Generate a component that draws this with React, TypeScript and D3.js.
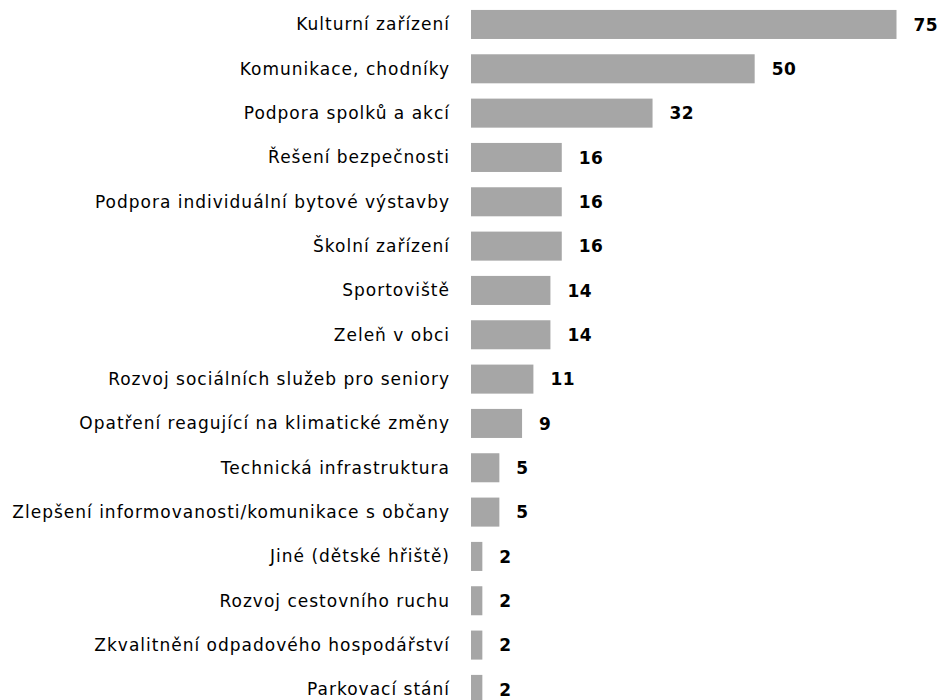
import * as React from 'react';
import * as d3 from 'd3';

const categories = [
  'Kulturní zařízení',
  'Komunikace, chodníky',
  'Podpora spolků a akcí',
  'Řešení bezpečnosti',
  'Podpora individuální bytové výstavby',
  'Školní zařízení',
  'Sportoviště',
  'Zeleň v obci',
  'Rozvoj sociálních služeb pro seniory',
  'Opatření reagující na klimatické změny',
  'Technická infrastruktura',
  'Zlepšení informovanosti/komunikace s občany',
  'Jiné (dětské hřiště)',
  'Rozvoj cestovního ruchu',
  'Zkvalitnění odpadového hospodářství',
  'Parkovací stání',
];

const values = [75, 50, 32, 16, 16, 16, 14, 14, 11, 9, 5, 5, 2, 2, 2, 2];

const width = 943;
const height = 700;
const barLeft = 471;
const barColor = '#a6a6a6';
const font = 'Verdana, "DejaVu Sans", sans-serif';

export default function App() {
  const x = d3.scaleLinear().domain([0, 75]).range([barLeft, 896.5]);
  const y = d3
    .scaleBand<string>()
    .domain(categories)
    .range([2.3, 2.3 + 16 * 44.33])
    .paddingInner(0.345)
    .paddingOuter(0.1725);

  return (
    <svg
      width={width}
      height={height}
      style={{ position: 'absolute', left: 0, top: 0, display: 'block' }}
      fontFamily={font}
    >
      {categories.map((c, i) => {
        const yy = y(c) as number;
        const cy = yy + y.bandwidth() / 2;
        return (
          <g key={c}>
            <rect x={x(0)} y={yy} width={x(values[i]) - x(0)} height={y.bandwidth()} fill={barColor} />
            <text
              x={450}
              y={cy}
              dy="0.35em"
              textAnchor="end"
              fontSize={17}
              letterSpacing={1}
              fill="#000"
            >
              {c}
            </text>
            <text
              x={x(values[i]) + 17}
              y={cy}
              dy="0.36em"
              fontSize={17}
              fontWeight="bold"
              letterSpacing={0.5}
              fill="#000"
            >
              {values[i]}
            </text>
          </g>
        );
      })}
    </svg>
  );
}
